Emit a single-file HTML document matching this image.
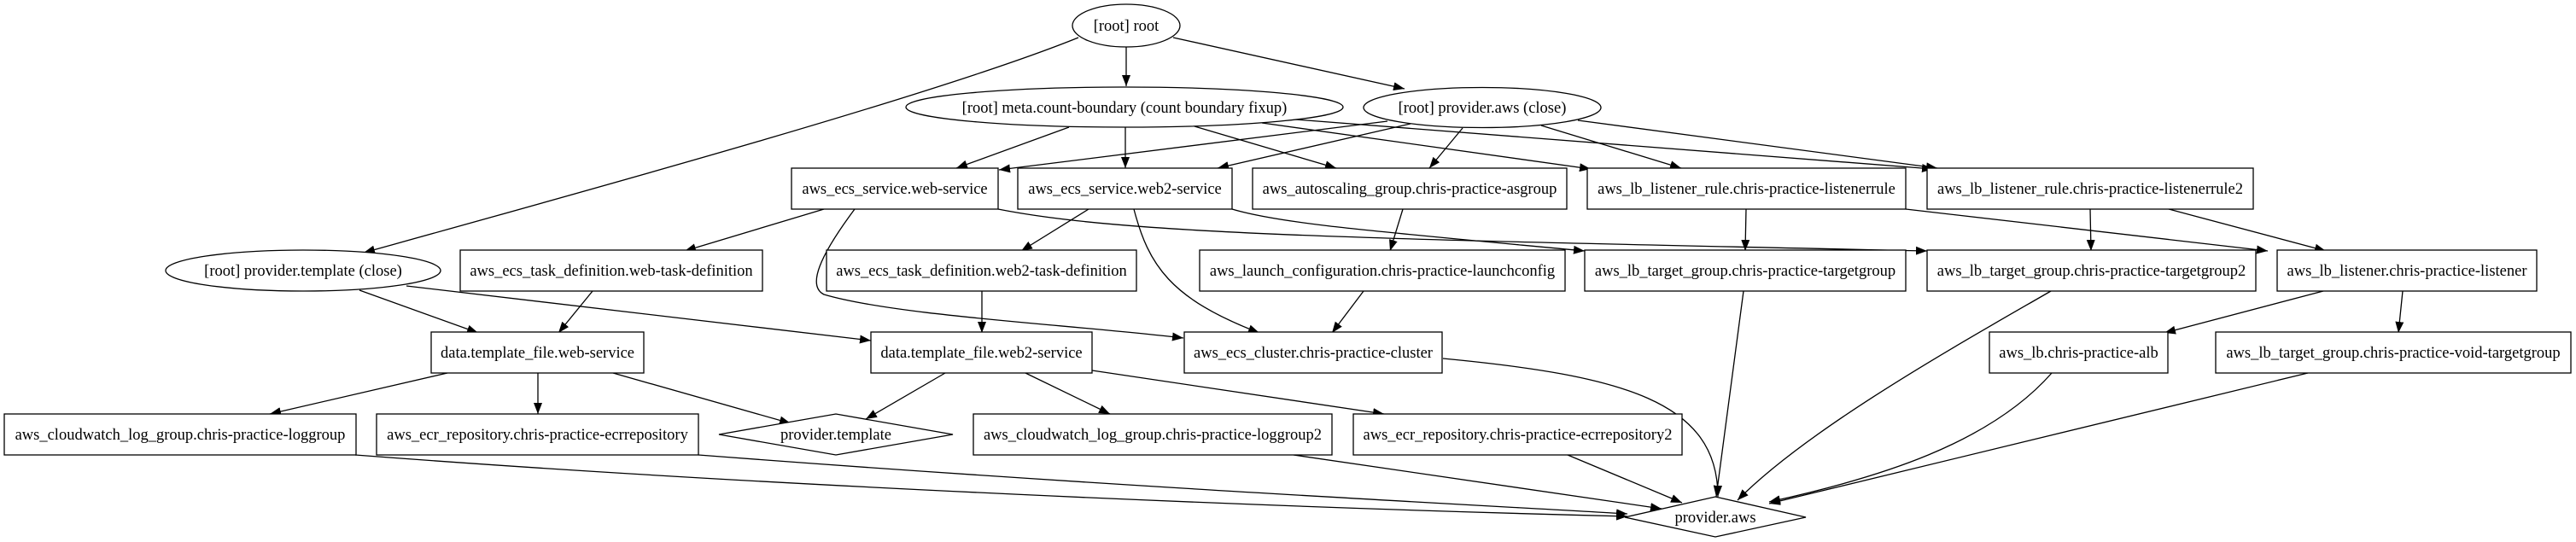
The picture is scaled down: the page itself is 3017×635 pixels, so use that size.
<!DOCTYPE html>
<html><head><meta charset="utf-8">
<style>
html,body{margin:0;padding:0;background:#fff;}
svg{display:block;}
text{font-family:"Liberation Serif","Times New Roman",serif;font-size:18.5px;fill:#000;}
</style></head>
<body>
<svg width="3017" height="635" viewBox="0 0 3017 635" xmlns="http://www.w3.org/2000/svg">
<defs>
<marker id="a" markerWidth="14" markerHeight="10" refX="13" refY="5" orient="auto" markerUnits="userSpaceOnUse">
<path d="M0,0 L13,5 L0,10 Z" fill="#000"/>
</marker>
</defs>
<g fill="none" stroke="#000" stroke-width="1.3" marker-end="url(#a)">
<path d="M1319,55 L1319,101"/>
<path d="M1263,44 C1100,110 700,220 426,296"/>
<path d="M1374,44 L1645,104"/>
<path d="M1252,149 L1120,197"/>
<path d="M1318,149 L1318,197"/>
<path d="M1399,148 L1565,197"/>
<path d="M1478,144 L1863,198"/>
<path d="M1505,139 L2264,198"/>
<path d="M1625,142 L1170,199"/>
<path d="M1652,145 L1426,197"/>
<path d="M1713,150 L1674,197"/>
<path d="M1805,147 L1969,197"/>
<path d="M1848,141 L2269,197"/>
<path d="M965,245 L802,294"/>
<path d="M1001,245 C960,300 945,335 965,345 C1050,370 1250,380 1386,396"/>
<path d="M1169,245 C1320,275 1600,280 2257,294"/>
<path d="M1275,245 L1196,294"/>
<path d="M1328,245 C1345,310 1370,350 1475,390"/>
<path d="M1443,245 C1500,262 1600,270 1856,294"/>
<path d="M1643,245 L1628,294"/>
<path d="M2045,245 L2044,294"/>
<path d="M2232,245 L2656,294"/>
<path d="M2448,245 L2449,294"/>
<path d="M2540,245 L2724,294"/>
<path d="M421,340 L560,390"/>
<path d="M476,335 L1020,399"/>
<path d="M694,341 L654,390"/>
<path d="M1150,341 L1150,390"/>
<path d="M1597,341 L1560,390"/>
<path d="M2042,341 L2010,582"/>
<path d="M2402,341 C2300,400 2120,500 2035,586"/>
<path d="M2721,341 L2535,390"/>
<path d="M2814,341 L2809,390"/>
<path d="M1690,420 C1900,440 2012,470 2012,582"/>
<path d="M2403,437 C2330,520 2200,560 2072,588"/>
<path d="M2703,437 L2072,590"/>
<path d="M524,437 L316,485"/>
<path d="M630,437 L630,485"/>
<path d="M718,437 L926,496"/>
<path d="M1107,437 L1014,491"/>
<path d="M1201,437 L1300,485"/>
<path d="M1279,434 L1621,485"/>
<path d="M416,533 C900,570 1500,595 1906,605"/>
<path d="M818,533 C1300,570 1700,590 1906,602"/>
<path d="M1515,533 L1946,596"/>
<path d="M1836,533 L1970,589"/>
</g>
<g fill="#fff" stroke="#000" stroke-width="1.3">
<ellipse cx="1319" cy="30" rx="63" ry="25"/>
<ellipse cx="1317" cy="125.5" rx="256" ry="23.5"/>
<ellipse cx="1736" cy="126" rx="139" ry="23.5"/>
<ellipse cx="355" cy="317" rx="161" ry="24"/>
<rect x="927" y="197" width="242" height="48"/>
<rect x="1192" y="197" width="251" height="48"/>
<rect x="1467" y="197" width="368" height="48"/>
<rect x="1859" y="197" width="373" height="48"/>
<rect x="2257" y="197" width="382" height="48"/>
<rect x="539" y="293" width="354" height="48"/>
<rect x="968" y="293" width="363" height="48"/>
<rect x="1405" y="293" width="428" height="48"/>
<rect x="1856" y="293" width="376" height="48"/>
<rect x="2257" y="293" width="385" height="48"/>
<rect x="2667" y="293" width="304" height="48"/>
<rect x="505" y="389" width="249" height="48"/>
<rect x="1020" y="389" width="259" height="48"/>
<rect x="1387" y="389" width="302" height="48"/>
<rect x="2330" y="389" width="209" height="48"/>
<rect x="2595" y="389" width="416" height="48"/>
<rect x="5" y="485" width="412" height="48"/>
<rect x="441" y="485" width="377" height="48"/>
<polygon points="842,509 979,485 1116,509 979,533"/>
<rect x="1140" y="485" width="420" height="48"/>
<rect x="1585" y="485" width="385" height="48"/>
<polygon points="1903,606 2009,582 2115,606 2009,629"/>
</g>
<g text-anchor="middle">
<text x="1319" y="36">[root] root</text>
<text x="1317" y="132">[root] meta.count-boundary (count boundary fixup)</text>
<text x="1736" y="132">[root] provider.aws (close)</text>
<text x="355" y="323">[root] provider.template (close)</text>
<text x="1048" y="227">aws_ecs_service.web-service</text>
<text x="1317.5" y="227">aws_ecs_service.web2-service</text>
<text x="1651" y="227">aws_autoscaling_group.chris-practice-asgroup</text>
<text x="2045.5" y="227">aws_lb_listener_rule.chris-practice-listenerrule</text>
<text x="2448" y="227">aws_lb_listener_rule.chris-practice-listenerrule2</text>
<text x="716" y="323">aws_ecs_task_definition.web-task-definition</text>
<text x="1149.5" y="323">aws_ecs_task_definition.web2-task-definition</text>
<text x="1619" y="323">aws_launch_configuration.chris-practice-launchconfig</text>
<text x="2044" y="323">aws_lb_target_group.chris-practice-targetgroup</text>
<text x="2449.5" y="323">aws_lb_target_group.chris-practice-targetgroup2</text>
<text x="2819" y="323">aws_lb_listener.chris-practice-listener</text>
<text x="629.5" y="419">data.template_file.web-service</text>
<text x="1149.5" y="419">data.template_file.web2-service</text>
<text x="1538" y="419">aws_ecs_cluster.chris-practice-cluster</text>
<text x="2434.5" y="419">aws_lb.chris-practice-alb</text>
<text x="2803" y="419">aws_lb_target_group.chris-practice-void-targetgroup</text>
<text x="211" y="515">aws_cloudwatch_log_group.chris-practice-loggroup</text>
<text x="629.5" y="515">aws_ecr_repository.chris-practice-ecrrepository</text>
<text x="979" y="515">provider.template</text>
<text x="1350" y="515">aws_cloudwatch_log_group.chris-practice-loggroup2</text>
<text x="1777.5" y="515">aws_ecr_repository.chris-practice-ecrrepository2</text>
<text x="2009" y="612">provider.aws</text>
</g>
</svg>
</body></html>
